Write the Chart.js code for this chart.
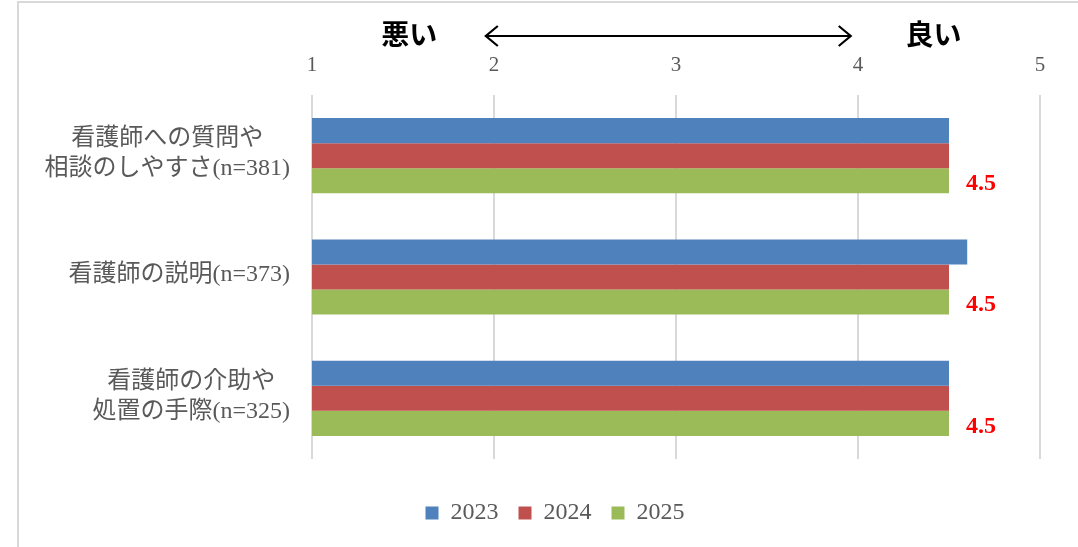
<!DOCTYPE html>
<html>
<head>
<meta charset="utf-8">
<script src="https://cdn.jsdelivr.net/npm/chart.js@4"></script>
<style>
html,body{margin:0;padding:0;background:#fff;}
#wrap{position:relative;width:1078px;height:547px;overflow:hidden;}
#frame{position:absolute;left:17px;top:1px;width:1100px;height:600px;border-left:2px solid #d9d9d9;border-top:2px solid #d9d9d9;box-sizing:border-box;}
canvas{position:absolute;left:0;top:0;}
</style>
</head>
<body>
<div id="wrap">
<div id="frame"></div>
<canvas id="c" width="1078" height="547"></canvas>
</div>
<script>
const categories = [
  ["看護師への質問や", "相談のしやすさ(n=381)"],
  ["看護師の説明(n=373)"],
  ["看護師の介助や", "処置の手際(n=325)"]
];
const seriesNames = ["2023", "2024", "2025"];
const values2023 = [4.5, 4.6, 4.5];
const values2024 = [4.5, 4.5, 4.5];
const values2025 = [4.5, 4.5, 4.5];
const labels2025 = ["4.5", "4.5", "4.5"];
const tickValues = [1, 2, 3, 4, 5];
const headerLeft = "悪い";
const headerRight = "良い";

const colors = ["#4F81BD", "#C0504D", "#9BBB59"];
const serif = "'Liberation Serif', 'DejaVu Serif', serif";
const mixed = "'Liberation Serif', 'Noto Sans CJK JP', serif";
const jp = "'Noto Sans CJK JP', 'Noto Sans', sans-serif";

const overlay = {
  id: 'overlay',
  afterDatasetsDraw(chart) {
    const ctx = chart.ctx;
    // data labels for 2025
    const meta = chart.getDatasetMeta(2);
    ctx.save();
    ctx.fillStyle = '#FF0000';
    ctx.font = "bold 24px " + serif;
    ctx.textAlign = 'left';
    ctx.textBaseline = 'middle';
    meta.data.forEach((bar, i) => {
      ctx.fillText(labels2025[i], bar.x + 17, bar.y + 3);
    });
    ctx.restore();
  },
  afterDraw(chart) {
    const ctx = chart.ctx;
    const xs = chart.scales.x;
    const ys = chart.scales.y;
    // category labels: block right-aligned, lines centred within the block
    ctx.save();
    ctx.fillStyle = '#595959';
    ctx.font = "24px " + mixed;
    ctx.textBaseline = 'middle';
    ctx.textAlign = 'center';
    const right = chart.chartArea.left - 22;
    const lh = 30;
    categories.forEach((lines, i) => {
      const yc = ys.getPixelForValue(i) - 2;
      const w = Math.max(...lines.map(l => ctx.measureText(l).width));
      const cx = right - w / 2;
      lines.forEach((l, k) => {
        ctx.fillText(l, cx, yc + (k - (lines.length - 1) / 2) * lh);
      });
    });
    ctx.restore();

    // header
    const y = 36;
    ctx.save();
    ctx.fillStyle = '#000';
    ctx.font = "bold 28px " + jp;
    ctx.textAlign = 'center';
    ctx.textBaseline = 'middle';
    ctx.fillText(headerLeft, xs.getPixelForValue(1.535), y - 2);
    ctx.fillText(headerRight, xs.getPixelForValue(4.415), y - 2);
    const x1 = xs.getPixelForValue(1.955), x2 = xs.getPixelForValue(3.96);
    ctx.strokeStyle = '#000';
    ctx.lineWidth = 2.2;
    ctx.beginPath();
    ctx.moveTo(x1, y); ctx.lineTo(x2, y);
    ctx.moveTo(x1 + 12, y - 10); ctx.lineTo(x1, y); ctx.lineTo(x1 + 12, y + 10);
    ctx.moveTo(x2 - 12, y - 10); ctx.lineTo(x2, y); ctx.lineTo(x2 - 12, y + 10);
    ctx.stroke();
    ctx.restore();
  }
};

new Chart(document.getElementById('c'), {
  type: 'bar',
  data: {
    labels: categories,
    datasets: [
      { label: seriesNames[0], data: values2023, backgroundColor: colors[0] },
      { label: seriesNames[1], data: values2024, backgroundColor: colors[1] },
      { label: seriesNames[2], data: values2025, backgroundColor: colors[2] }
    ]
  },
  options: {
    indexAxis: 'y',
    responsive: false,
    animation: false,
    devicePixelRatio: 1,
    layout: { padding: { left: 70, right: 38, top: 0, bottom: 12 } },
    datasets: { bar: { categoryPercentage: 0.62, barPercentage: 1.0 } },
    scales: {
      x: {
        position: 'top',
        min: 1, max: 5,
        afterBuildTicks(s) { s.ticks = tickValues.map(v => ({ value: v })); },
        afterFit(s) { s.height = 95; },
        grid: { color: '#d9d9d9', lineWidth: 2, drawTicks: false },
        border: { display: false },
        ticks: { color: '#595959', font: { family: serif, size: 21 }, padding: 17 }
      },
      y: {
        afterFit(s) { s.width = 242; },
        grid: { display: false },
        border: { display: false },
        ticks: { display: false }
      }
    },
    plugins: {
      legend: {
        position: 'bottom',
        title: { display: true, text: '', font: { size: 10, lineHeight: 1 }, padding: { top: 12, bottom: 0 } },
        labels: { color: '#595959', font: { family: serif, size: 24 }, boxWidth: 13, boxHeight: 13, padding: 20 }
      },
      tooltip: { enabled: false }
    }
  },
  plugins: [overlay]
});
</script>
</body>
</html>
